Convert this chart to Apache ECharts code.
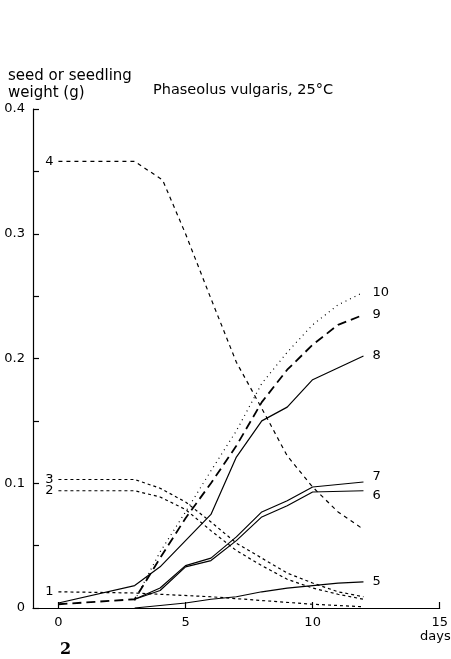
<!DOCTYPE html>
<html>
<head>
<meta charset="utf-8">
<script src="https://cdn.jsdelivr.net/npm/echarts@6/dist/echarts.min.js"></script>
<style>
  html, body { margin: 0; padding: 0; background: #fff; }
  #chart { width: 451px; height: 659px; }
</style>
</head>
<body>
<div id="chart"></div>
<script>
// [day, weight g]
const line1 = [[0, 0.013], [3, 0.012], [6, 0.009], [8, 0.006], [10, 0.003], [12, 0.001]];
const line2 = [[0, 0.094], [3, 0.094], [4, 0.089], [5, 0.079], [6, 0.062], [7, 0.046], [8, 0.034], [9, 0.023], [10, 0.016], [11, 0.011], [12, 0.007]];
const line3 = [[0, 0.103], [3, 0.103], [4, 0.096], [5, 0.085], [6, 0.069], [7, 0.052], [8, 0.040], [9, 0.028], [10, 0.020], [11, 0.013], [12, 0.009]];
const line4 = [[0, 0.358], [3, 0.358], [4.1, 0.343], [5, 0.300], [6, 0.248], [7, 0.197], [8, 0.160], [9, 0.122], [10, 0.097], [11, 0.077], [12, 0.063]];
const line5 = [[3, 0.000], [5, 0.004], [6, 0.007], [7, 0.009], [8, 0.013], [9, 0.016], [10, 0.018], [11, 0.020], [12, 0.021]];
const line6 = [[3, 0.007], [4, 0.014], [5, 0.033], [6, 0.038], [7, 0.054], [8, 0.073], [9, 0.082], [10, 0.093], [12, 0.094]];
const line7 = [[3, 0.007], [4, 0.016], [5, 0.034], [6, 0.040], [7, 0.057], [8, 0.077], [9, 0.086], [10, 0.097], [12, 0.101]];
const line8 = [[0, 0.004], [3, 0.018], [4, 0.033], [6, 0.075], [7, 0.121], [8, 0.150], [9, 0.161], [10, 0.183], [12, 0.202]];
const line9 = [[0, 0.003], [3, 0.007], [4, 0.040], [5, 0.072], [6, 0.100], [7, 0.130], [8, 0.165], [9, 0.191], [10, 0.211], [11, 0.227], [12, 0.235]];
const line10 = [[3, 0.006], [4, 0.045], [5, 0.077], [6, 0.110], [7, 0.142], [8, 0.180], [9, 0.205], [10, 0.227], [11, 0.243], [12, 0.253]];

const xTicks = [0, 5, 10, 15];
const FONT = "DejaVu Sans";

var chart = echarts.init(document.getElementById("chart"));

// series with a number at the left end of the line
function startSeries(name, data, lineStyle) {
  return {
    name: name,
    type: "line",
    data: data.map(function(p, i) {
      if (i === 0) {
        return {
          value: p,
          label: { show: true, position: "left", distance: 5, formatter: name }
        };
      }
      return p;
    }),
    symbol: "circle",
    symbolSize: 0,
    showSymbol: true,
    label: { show: false, color: "#000", fontSize: 13, fontFamily: FONT },
    lineStyle: lineStyle,
    z: 2
  };
}

// series with a number at the right end
function endSeries(name, data, lineStyle, offset) {
  return {
    name: name,
    type: "line",
    data: data,
    showSymbol: false,
    symbol: "none",
    endLabel: {
      show: true,
      formatter: name,
      color: "#000",
      fontSize: 13,
      fontFamily: FONT,
      distance: 9,
      offset: offset || [0, 0]
    },
    lineStyle: lineStyle,
    z: 2
  };
}

chart.setOption({
  animation: false,
  backgroundColor: "#fff",
  title: [
    {
      text: "seed or seedling\nweight (g)",
      left: 3,
      top: 63,
      textStyle: { fontFamily: FONT, fontSize: 15, fontWeight: "normal", color: "#000", lineHeight: 17 }
    },
    {
      text: "Phaseolus vulgaris, 25°C",
      left: 148,
      top: 78,
      textStyle: { fontFamily: FONT, fontSize: 14.5, fontWeight: "normal", color: "#000" }
    },
    {
      text: "days",
      left: 415,
      top: 625,
      textStyle: { fontFamily: FONT, fontSize: 13, fontWeight: "normal", color: "#000" }
    },
    {
      text: "2",
      left: 55,
      top: 637,
      textStyle: { fontFamily: "DejaVu Serif", fontSize: 16, fontWeight: "bold", color: "#000" }
    }
  ],
  grid: { left: 33, right: 8, top: 109, bottom: 51, containLabel: false },
  xAxis: {
    type: "value",
    min: -1,
    max: 15,
    axisLine: { onZero: false, lineStyle: { color: "#000", width: 1.2 } },
    axisTick: { inside: true, length: 6, customValues: xTicks, lineStyle: { color: "#000", width: 1.2 } },
    axisLabel: { customValues: xTicks, color: "#000", fontSize: 13, fontFamily: FONT, margin: 8 },
    splitLine: { show: false }
  },
  yAxis: {
    type: "value",
    min: 0,
    max: 0.4,
    interval: 0.05,
    axisLine: { show: true, onZero: false, lineStyle: { color: "#000", width: 1.2 } },
    axisTick: { show: true, inside: true, length: 6, lineStyle: { color: "#000", width: 1.2 } },
    axisLabel: {
      color: "#000",
      fontSize: 13,
      fontFamily: FONT,
      margin: 8,
      formatter: function(v) {
        var k = Math.round(v * 100);
        if (k % 10 !== 0) return "";
        return k === 0 ? "0" : (k / 100).toFixed(1);
      }
    },
    splitLine: { show: false }
  },
  series: [
    startSeries("1", line1, { color: "#000", width: 1.2, type: [3, 3] }),
    startSeries("2", line2, { color: "#000", width: 1.2, type: [3, 3] }),
    startSeries("3", line3, { color: "#000", width: 1.2, type: [3, 3] }),
    startSeries("4", line4, { color: "#000", width: 1.2, type: [4, 4] }),
    endSeries("5", line5, { color: "#000", width: 1.2, type: "solid" }, [0, 0]),
    endSeries("6", line6, { color: "#000", width: 1.2, type: "solid" }, [0, 5]),
    endSeries("7", line7, { color: "#000", width: 1.2, type: "solid" }, [0, -5]),
    endSeries("8", line8, { color: "#000", width: 1.2, type: "solid" }, [0, 0]),
    endSeries("9", line9, { color: "#000", width: 1.8, type: [9, 5] }, [0, 0]),
    endSeries("10", line10, { color: "#000", width: 1.2, type: [1, 4] }, [0, 0])
  ]
});
</script>
</body>
</html>
